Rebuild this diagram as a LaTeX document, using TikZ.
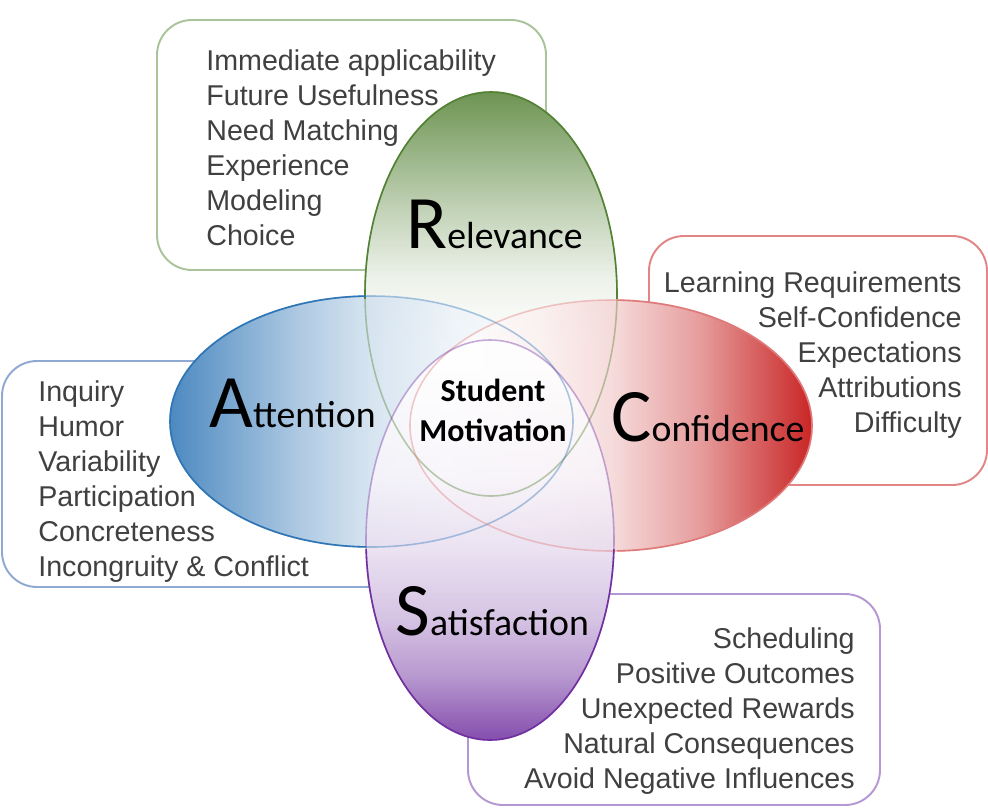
\documentclass[tikz,border=0pt]{standalone}
\usepackage{fontspec}
\setmainfont{Liberation Sans}
\newfontfamily\calibrifont{Carlito}
\usetikzlibrary{positioning}
\definecolor{relgreen}{HTML}{548235}
\definecolor{relbox}{HTML}{A9C49A}
\definecolor{attblue}{HTML}{2E75B6}
\definecolor{attbox}{HTML}{8FA9D2}
\definecolor{confred}{HTML}{C00000}
\definecolor{confline}{HTML}{E07A7A}
\definecolor{confbox}{HTML}{E38585}
\definecolor{satpurple}{HTML}{7030A0}
\definecolor{satbox}{HTML}{B597D3}
\definecolor{listgray}{HTML}{404040}
\newcommand{\arcslabel}[2]{{\calibrifont\fontsize{43}{44}\selectfont #1}{\calibrifont\fontsize{21.5}{22}\selectfont #2}}
% gradients: the path box spans 25bp..75bp
\pgfdeclareverticalshading{relshade}{100bp}{color(0bp)=(white); color(44bp)=(white);
  color(52bp)=(relgreen!12); color(60bp)=(relgreen!40); color(75bp)=(relgreen); color(100bp)=(relgreen)}
\pgfdeclarehorizontalshading{attshade}{100bp}{color(0bp)=(attblue); color(25bp)=(attblue);
  color(41bp)=(attblue!45); color(50bp)=(attblue!22); color(60bp)=(attblue!9); color(72bp)=(white); color(100bp)=(white)}
\pgfdeclarehorizontalshading{confshade}{100bp}{color(0bp)=(white); color(30bp)=(white);
  color(41bp)=(confred!6); color(50bp)=(confred!16); color(61bp)=(confred!45); color(75bp)=(confred); color(100bp)=(confred)}
\pgfdeclareverticalshading{satshade}{100bp}{color(0bp)=(satpurple); color(25bp)=(satpurple);
  color(28bp)=(satpurple!85); color(33bp)=(satpurple!58); color(40bp)=(satpurple!34); color(49bp)=(satpurple!16);
  color(58bp)=(satpurple!5); color(72bp)=(white); color(100bp)=(white)}

\begin{document}
\begin{tikzpicture}[x=0.02cm, y=-0.02cm,
    listbox/.style={draw=#1, line width=1.1pt, rounded corners=0.7cm, fill=white},
    item/.style={font=\fontsize{16.3}{19.6}\selectfont, text=listgray, inner sep=0pt},
    arcs/.style={fill opacity=0.85},
    rim/.style={line width=0.9pt, draw opacity=0.4},
    edge/.style={line width=0.9pt},
    biglabel/.style={anchor=base west, inner sep=0pt}
]
\useasboundingbox (0,0) rectangle (988,812);

% boxes behind the ellipses
\draw[listbox=relbox] (157,20) rectangle (546,270);
\draw[listbox=attbox] (2,361) rectangle (400,587);
\draw[listbox=confbox] (649,236) rectangle (987,485);
\draw[listbox=satbox] (468,594) rectangle (880,805);

\foreach \txt [count=\i from 0] in {Immediate applicability, Future Usefulness, Need Matching, Experience, Modeling, Choice}
  \node[item, anchor=base west] (rel-\i) at (206, {70+35*\i}) {\txt};
\foreach \txt [count=\i from 0] in {Inquiry, Humor, Variability, Participation, Concreteness, Incongruity \& Conflict}
  \node[item, anchor=base west] (att-\i) at (38, {401+35*\i}) {\txt};
\foreach \txt [count=\i from 0] in {Learning Requirements, Self-Confidence, Expectations, Attributions, Difficulty}
  \node[item, anchor=base east] (conf-\i) at (962, {292+35*\i}) {\txt};
\foreach \txt [count=\i from 0] in {Scheduling, Positive Outcomes, Unexpected Rewards, Natural Consequences, Avoid Negative Influences}
  \node[item, anchor=base east] (sat-\i) at (855, {648+35*\i}) {\txt};

% white base so the boxes do not show through
\fill[white] (491,294) ellipse [x radius=126, y radius=202];
\fill[white] (371.5,421.5) ellipse [x radius=201.5, y radius=125.5];
\fill[white] (611,425.5) ellipse [x radius=201, y radius=125.5];
\fill[white] (490,540) ellipse [x radius=124, y radius=200];

% the four ARCS ellipses
\shade[arcs, shading=relshade] (491,294) ellipse [x radius=126, y radius=202];
\shade[arcs, shading=attshade] (371.5,421.5) ellipse [x radius=201.5, y radius=125.5];
\shade[arcs, shading=confshade] (611,425.5) ellipse [x radius=201, y radius=125.5];
\shade[arcs, shading=satshade] (490,540) ellipse [x radius=124, y radius=200];

% rims, light where they cross the overlaps
\draw[rim, relgreen] (491,294) ellipse [x radius=126, y radius=202];
\draw[rim, attblue] (371.5,421.5) ellipse [x radius=201.5, y radius=125.5];
\draw[rim, confline] (611,425.5) ellipse [x radius=201, y radius=125.5];
\draw[rim, satpurple] (490,540) ellipse [x radius=124, y radius=200];

% full colour on the outer parts
\begin{scope}
  \clip (0,0) rectangle (988,298);
  \draw[edge, relgreen] (491,294) ellipse [x radius=126, y radius=202];
\end{scope}
\begin{scope}
  \clip (0,0) rectangle (366,812);
  \draw[edge, attblue] (371.5,421.5) ellipse [x radius=201.5, y radius=125.5];
\end{scope}
\begin{scope}
  \clip (617,0) rectangle (988,812);
  \draw[edge, confline] (611,425.5) ellipse [x radius=201, y radius=125.5];
\end{scope}
\begin{scope}
  \clip (0,549) rectangle (988,812);
  \draw[edge, satpurple] (490,540) ellipse [x radius=124, y radius=200];
\end{scope}

\node[biglabel] (relevance) at (406,248) {\arcslabel{R}{elevance}};
\node[biglabel] (attention) at (209,427) {\arcslabel{A}{ttention}};
\node[biglabel] (confidence) at (611,441) {\arcslabel{C}{onfidence}};
\node[biglabel] (satisfaction) at (395,635) {\arcslabel{S}{atisfaction}};

\node[font=\calibrifont\bfseries\fontsize{18.2}{22.7}\selectfont, align=center, inner sep=0pt] (motivation) at (493,410) {Student\\Motivation};
\end{tikzpicture}
\end{document}
